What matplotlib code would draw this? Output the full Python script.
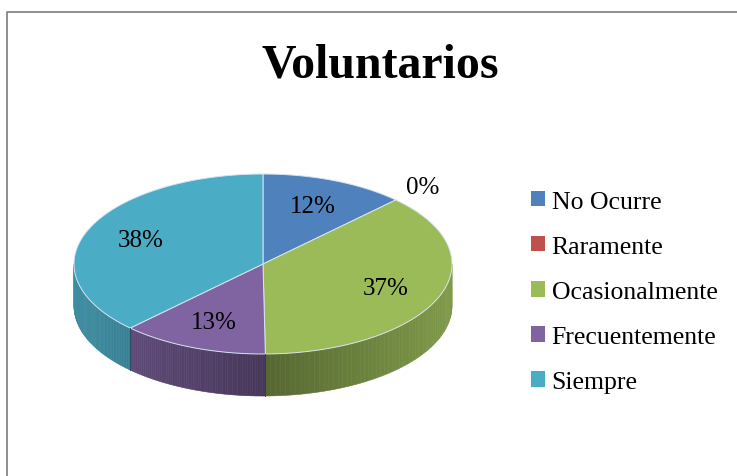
import matplotlib.pyplot as plt
import numpy as np
from matplotlib.patches import Polygon, Patch
from matplotlib.colors import to_rgb

categories = ['No Ocurre', 'Raramente', 'Ocasionalmente', 'Frecuentemente', 'Siempre']
values = [12.4, 0.0, 37.4, 12.6, 37.6]
labels = ['12%', '0%', '37%', '13%', '38%']
colors = ['#4F81BD', '#C0504D', '#9BBB59', '#8064A2', '#4BACC6']

# pie geometry in pixel space
cx, cy = 263, 265
rx, ry = 189, 90
depth = 42


def ell(theta, dy=0.0):
    t = np.radians(theta)
    return cx + rx * np.cos(t), cy - ry * np.sin(t) + dy


def darker(c, f):
    r, g, b = to_rgb(c)
    return (r * f, g * f, b * f)


def plot_pie():
    plt.rcParams['font.family'] = ['Liberation Serif', 'DejaVu Serif']
    fig = plt.figure(figsize=(7.37, 4.77), dpi=100)
    ax = fig.add_axes([0, 0, 1, 1])
    ax.set_xlim(0, 737)
    ax.set_ylim(477, 0)
    ax.axis('off')

    # outer frame (partially cut off on right/bottom)
    ax.plot([7, 7, 760], [500, 13, 13], color='#878787', lw=1.3, clip_on=False)

    total = sum(values)
    starts, ends = [], []
    a = 90.0
    for v in values:
        span = 360.0 * v / total
        starts.append(a)
        ends.append(a - span)
        a -= span

    # side wall (front half only)
    for i, c in enumerate(colors):
        if values[i] == 0:
            continue
        hi, lo = starts[i], ends[i]
        for shift in (-360, 0, 360):
            h, l = hi + shift, lo + shift
            l2, h2 = max(l, -180), min(h, 0)
            if h2 <= l2:
                continue
            edges = np.linspace(l2, h2, 60)
            for t0, t1 in zip(edges[:-1], edges[1:]):
                tm = np.radians((t0 + t1) / 2)
                f = 0.55 + 0.27 * abs(np.cos(tm))
                ts = np.linspace(t0, t1, 3)
                top = [ell(t) for t in ts]
                bot = [ell(t, depth) for t in ts[::-1]]
                ax.add_patch(Polygon(top + bot, closed=True, facecolor=darker(c, f),
                                     edgecolor=darker(c, f), lw=0.4))
            # seam line at slice boundaries on the side
            for t in (l2, h2):
                if t not in (-180, 0):
                    x0, y0 = ell(t)
                    ax.plot([x0, x0], [y0, y0 + depth], color=darker(c, 0.5), lw=0.6)

    # top faces
    for i, c in enumerate(colors):
        if values[i] == 0:
            continue
        ts = np.linspace(starts[i], ends[i], 200)
        pts = [(cx, cy)] + [ell(t) for t in ts]
        ax.add_patch(Polygon(pts, closed=True, facecolor=c, edgecolor='#D8E4F0', lw=0.7))

    # data labels
    for i, lab in enumerate(labels):
        mid = (starts[i] + ends[i]) / 2
        r = 0.7 if values[i] > 0 else 1.2
        t = np.radians(mid)
        x = cx + r * rx * np.cos(t)
        y = cy - r * ry * np.sin(t)
        ax.text(x, y, lab, fontsize=18, ha='center', va='center', color='black')

    ax.text(380, 65, 'Voluntarios', fontsize=34.5, fontweight='bold', ha='center', va='center')

    handles = [Patch(facecolor=c, edgecolor='none') for c in colors]
    fig.legend(handles, categories, loc='center left', bbox_to_anchor=(0.7066, 0.386),
               frameon=False, fontsize=18.5, handlelength=0.55, handleheight=0.55,
               handletextpad=0.25, labelspacing=0.9, borderaxespad=0)

    fig.savefig('out.png', dpi=100)


if __name__ == "__main__":
    plot_pie()
